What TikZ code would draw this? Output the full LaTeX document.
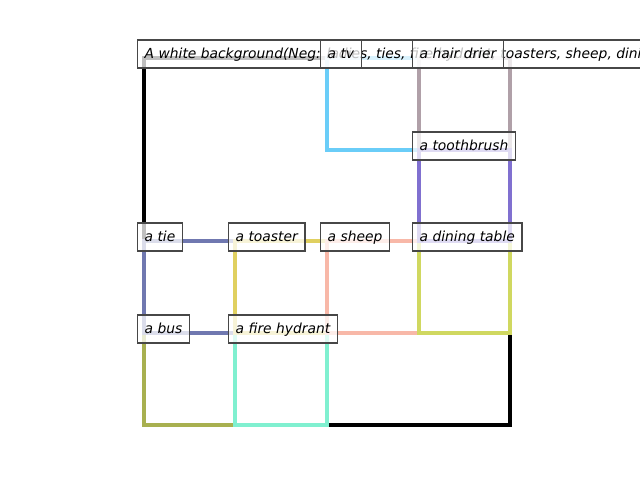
\documentclass[tikz,border=0pt]{standalone}
\usepackage{fontspec}
\setmainfont{DejaVu Sans}
\definecolor{ctv}{RGB}{106,205,248}
\definecolor{chair}{RGB}{176,160,168}
\definecolor{ctooth}{RGB}{128,112,208}
\definecolor{ctie}{RGB}{112,120,176}
\definecolor{ctoast}{RGB}{224,208,96}
\definecolor{csheep}{RGB}{248,184,168}
\definecolor{ctable}{RGB}{208,216,96}
\definecolor{cbus}{RGB}{168,176,80}
\definecolor{chyd}{RGB}{128,240,208}
\tikzset{
  box/.style={line width=2.2pt, line join=miter},
  lbl/.style={anchor=base west, xshift=-0.07in, yshift=-0.01in, fill=white, fill opacity=0.75,
    text opacity=1, draw=black!72, draw opacity=1, line width=1pt,
    inner xsep=0.07in, inner ysep=0.07in, text height=0.12in, text depth=0.02in,
    font=\itshape\fontsize{10pt}{12pt}\selectfont}
}
\begin{document}
\begin{tikzpicture}[x=0.01in, y=-0.01in]
\useasboundingbox (0,0) rectangle (640,480);
% rectangles
\draw[box, black, line width=2.3pt] (144,58) rectangle (510,425);
\draw[box, cbus] (144,333) rectangle (235,425);
\draw[box, chyd] (235,333) rectangle (327,425);
\draw[box, ctie] (144,241) rectangle (235,333);
\draw[box, ctoast] (235,241) rectangle (327,333);
\draw[box, csheep] (327,241) rectangle (419,333);
\draw[box, ctable] (419,241) rectangle (510,333);
\draw[box, ctv] (327,58) rectangle (419,150);
\draw[box, chair] (419,58) rectangle (510,150);
\draw[box, ctooth] (419,150) rectangle (510,241);
% labels
\node[lbl] (bg) at (144,58) {A white background(Neg: ladies, ties, fire hydrant, toasters, sheep, dining tables)};
\node[lbl] (tv) at (327,58) {a tv};
\node[lbl] (hair) at (419,58) {a hair drier};
\node[lbl] (tooth) at (419,150) {a toothbrush};
\node[lbl] (tie) at (144,241) {a tie};
\node[lbl] (toast) at (235,241) {a toaster};
\node[lbl] (sheep) at (327,241) {a sheep};
\node[lbl] (table) at (419,241) {a dining table};
\node[lbl] (bus) at (144,333) {a bus};
\node[lbl] (hyd) at (235,333) {a fire hydrant};
\end{tikzpicture}
\end{document}
